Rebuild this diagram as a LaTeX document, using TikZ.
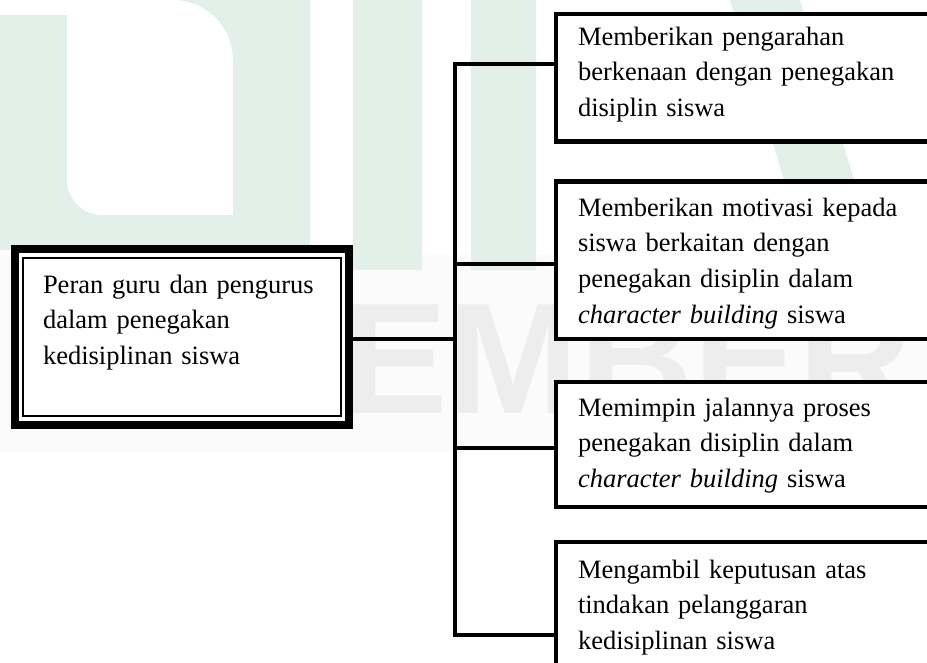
\documentclass[tikz,border=0pt]{standalone}
\usepackage{fontspec}
\setmainfont{Liberation Serif}
\newfontfamily\wmfont{Liberation Sans}
\definecolor{wmgreen}{RGB}{227,239,233}
\definecolor{wmgray}{RGB}{237,237,237}
\definecolor{wmband}{RGB}{251,251,251}
\begin{document}
\begin{tikzpicture}[x=1pt,y=-1pt,
  conn/.style={line width=4, line join=miter},
  rbox/.style={draw, line width=4.5, fill=white, minimum width=420, inner sep=0, outer sep=0, anchor=north west},
  btext/.style={anchor=base west, inner sep=0, outer sep=0, text width=345, align=left, font=\fontsize{26.5}{35.7}\selectfont},
  rootbox/.style={draw, line width=8, fill=white, minimum width=334, minimum height=176, inner sep=0}
]
\useasboundingbox (0,0) rectangle (927,662);
\clip (0,0) rectangle (927,662);
% watermark
\fill[wmband] (0,255) rectangle (927,452);
\fill[wmgreen] (0,15) -- (67,15) -- (67,180) arc[start angle=180,end angle=90,radius=35]
  -- (233,215) -- (233,60) arc[start angle=0,end angle=-90,radius=60]
  -- (310,0) -- (310,250) -- (0,250) -- cycle;
\fill[wmgreen] (353,0) rectangle (422,270);
\fill[wmgreen] (471,0) rectangle (536,270);
\fill[wmgreen] (730,0) -- (800,0) -- (860,200) -- (790,200) -- cycle;
\node[anchor=base west, inner sep=0, text=wmgray, font={\wmfont\bfseries\fontsize{158}{160}\selectfont}] (wm) at (342,413) {EMBER};
% coordinates on the trunk
\coordinate (j0) at (455,339);
\coordinate (j1) at (455,64);
\coordinate (j2) at (455,264);
\coordinate (j3) at (455,448);
\coordinate (j4) at (455,635);
% boxes
\node[rootbox] (root) at (182,337) {};
\node[rbox, minimum height=127.5] (b1) at (556,14) {};
\node[rbox, minimum height=157.5] (b2) at (556,181.5) {};
\node[rbox, minimum height=125] (b3) at (556,382) {};
\node[rbox, minimum height=160] (b4) at (556,542) {};
\draw[line width=1.8] ([xshift=12pt,yshift=-13pt]root.north west) rectangle ([xshift=-12pt,yshift=13pt]root.south east);
% connectors
\draw[conn] (j1 -| b1.west) -- (j1) -- (j4) -- (j4 -| b4.west);
\draw[conn] (j2) -- (j2 -| b2.west);
\draw[conn] (j3) -- (j3 -| b3.west);
\draw[conn] (root.east |- j0) -- (j0);
% texts
\node[btext] (roottext) at (43,293) {Peran guru dan pengurus\\dalam penegakan\\kedisiplinan siswa};
\node[btext] (t1) at (578,45) {Memberikan pengarahan\\berkenaan dengan penegakan\\disiplin siswa};
\node[btext] (t2) at (578,216) {Memberikan motivasi kepada\\siswa berkaitan dengan\\penegakan disiplin dalam\\\textit{character building} siswa};
\node[btext] (t3) at (578,416) {Memimpin jalannya proses\\penegakan disiplin dalam\\\textit{character building} siswa};
\node[btext] (t4) at (578,578) {Mengambil keputusan atas\\tindakan pelanggaran\\kedisiplinan siswa};
\end{tikzpicture}
\end{document}
